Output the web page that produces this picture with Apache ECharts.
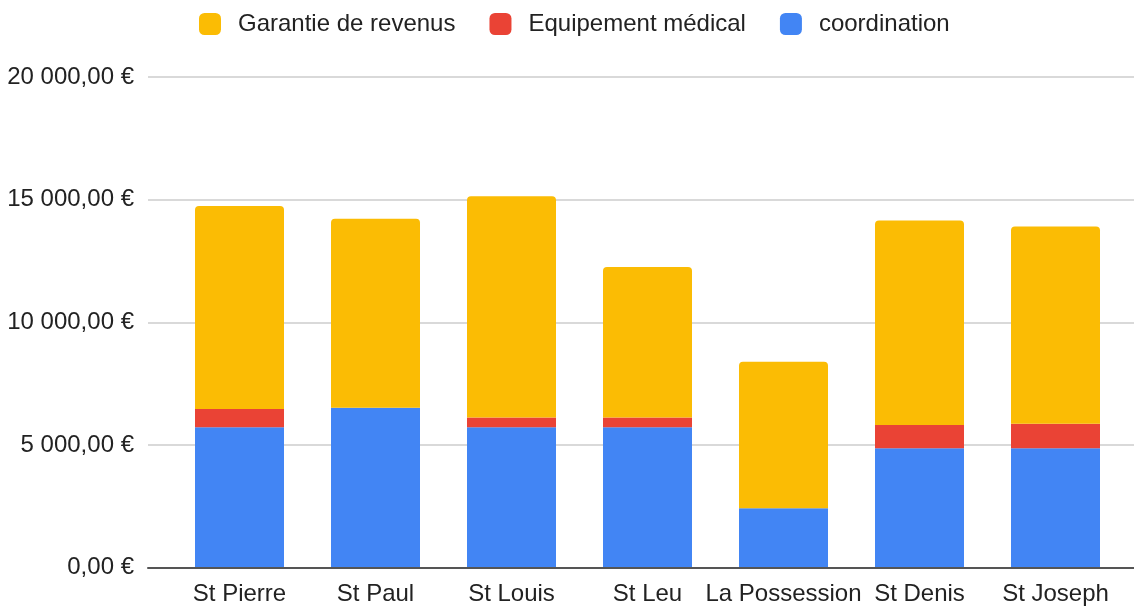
<!DOCTYPE html>
<html>
<head>
<meta charset="utf-8">
<script src="https://cdn.jsdelivr.net/npm/echarts@6/dist/echarts.min.js"></script>
<style>
html,body{margin:0;padding:0;background:#fff;}
#chart{width:1134px;height:606px;}
</style>
</head>
<body>
<div id="chart"></div>
<script>
var categories = ['St Pierre', 'St Paul', 'St Louis', 'St Leu', 'La Possession', 'St Denis', 'St Joseph'];
var coordination = [5700, 6500, 5700, 5700, 2400, 4850, 4850];
var equipement = [750, 0, 400, 400, 0, 950, 1000];
var garantie = [8280, 7710, 9030, 6150, 5980, 8340, 8050];
var seriesNames = ['Garantie de revenus', 'Equipement médical', 'coordination'];
var yTicks = [0, 5000, 10000, 15000, 20000];

function fmtEuro(v) {
  var s = Math.round(v).toString().replace(/\B(?=(\d{3})+(?!\d))/g, ' ');
  return s + ',00 €';
}

var FONT = '"Liberation Sans", Arial, sans-serif';
var chart = echarts.init(document.getElementById('chart'));
chart.setOption({
  animation: false,
  backgroundColor: '#ffffff',
  textStyle: { fontFamily: FONT },
  legend: {
    top: 7,
    left: 194,
    itemWidth: 22,
    itemHeight: 22,
    itemGap: 34,
    icon: 'roundRect',
    data: seriesNames,
    textStyle: { fontSize: 24, color: '#222', fontFamily: FONT, padding: [0, 0, 0, 12] }
  },
  grid: [
    { left: 148, right: 0, top: 77, bottom: 38.5 },
    { left: 171.5, right: 10.5, top: 77, bottom: 38.5 }
  ],
  xAxis: [
    {
      gridIndex: 0, type: 'value', min: 0, max: 1,
      axisLine: { show: true, lineStyle: { color: '#555', width: 2 } },
      axisTick: { show: false }, axisLabel: { show: false }, splitLine: { show: false }
    },
    {
      gridIndex: 1, type: 'category', data: categories,
      axisLine: { show: false }, axisTick: { show: false },
      axisLabel: { fontSize: 24, color: '#222', margin: 15, fontFamily: FONT, interval: 0 }
    }
  ],
  yAxis: [
    {
      gridIndex: 0, type: 'value', min: yTicks[0], max: yTicks[yTicks.length - 1], interval: 5000,
      axisLine: { show: false }, axisTick: { show: false },
      axisLabel: { fontSize: 24, color: '#222', margin: 14, fontFamily: FONT, formatter: fmtEuro },
      splitLine: { lineStyle: { color: '#cccccc', width: 1.5 } }
    },
    {
      gridIndex: 1, type: 'value', min: yTicks[0], max: yTicks[yTicks.length - 1], interval: 5000,
      show: false, splitLine: { show: false }
    }
  ],
  series: [
    {
      name: seriesNames[2], type: 'bar', stack: 'total', xAxisIndex: 1, yAxisIndex: 1,
      data: coordination, barWidth: 89, itemStyle: { color: '#4285F4' }
    },
    {
      name: seriesNames[1], type: 'bar', stack: 'total', xAxisIndex: 1, yAxisIndex: 1,
      data: equipement, barWidth: 89, itemStyle: { color: '#EA4335' }
    },
    {
      name: seriesNames[0], type: 'bar', stack: 'total', xAxisIndex: 1, yAxisIndex: 1,
      data: garantie, barWidth: 89, itemStyle: { color: '#FBBC04', borderRadius: [4, 4, 0, 0] }
    }
  ]
});
</script>
</body>
</html>
